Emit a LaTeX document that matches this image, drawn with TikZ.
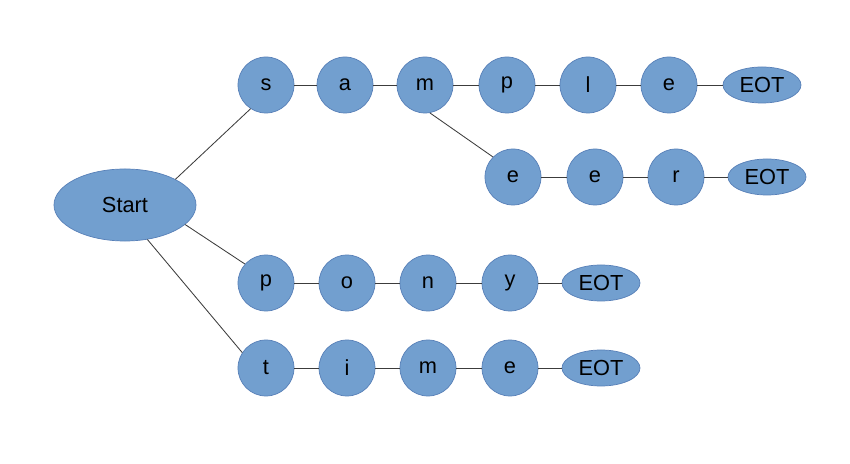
\documentclass[tikz,border=0pt]{standalone}
\usepackage{fontspec}
\setmainfont{Liberation Sans}
\usetikzlibrary{shapes.geometric}
\definecolor{NodeBlue}{RGB}{114,159,207}
\definecolor{NodeEdge}{RGB}{88,128,184}
\definecolor{LinkGray}{RGB}{60,60,60}
\tikzset{
  letter/.style={
    circle, minimum size=1.4cm, inner sep=0pt,
    draw=NodeEdge, fill=NodeBlue, line width=0.5pt,
    font=\fontsize{15.5}{18}\selectfont, text=black
  },
  root/.style={
    ellipse, minimum width=3.55cm, minimum height=1.8cm, inner sep=0pt,
    draw=NodeEdge, fill=NodeBlue, line width=0.5pt,
    font=\fontsize{15.5}{18}\selectfont, text=black
  },
  eot/.style={
    ellipse, minimum width=1.95cm, minimum height=0.9cm, inner sep=0pt,
    draw=NodeEdge, fill=NodeBlue, line width=0.5pt,
    font=\fontsize{15.5}{18}\selectfont, text=black
  },
  link/.style={draw=LinkGray, line width=0.6pt}
}
\begin{document}
\begin{tikzpicture}[x=0.025cm, y=-0.025cm]
  \useasboundingbox (0,0) rectangle (850,464);

  \node[root] (start) at (125,205) {Start};

  % sample
  \node[letter] (s1) at (266,85) {s};
  \node[letter] (a1) at (345,85) {a};
  \node[letter] (m1) at (425,85) {m};
  \node[letter] (p1) at (507,85) {p};
  \node[letter] (l1) at (588,85) {l};
  \node[letter] (e1) at (669,85) {e};
  \node[eot] (end1) at (762,85) {EOT};

  % steer branch
  \node[letter] (e2) at (513,177) {e};
  \node[letter] (e3) at (595,177) {e};
  \node[letter] (r2) at (676,177) {r};
  \node[eot] (end2) at (767,177) {EOT};

  % pony
  \node[letter] (p3) at (266,283) {p};
  \node[letter] (o3) at (347,283) {o};
  \node[letter] (n3) at (428,283) {n};
  \node[letter] (y3) at (510,283) {y};
  \node[eot] (end3) at (601,283) {EOT};

  % time
  \node[letter] (t4) at (266,368) {t};
  \node[letter] (i4) at (347,368) {i};
  \node[letter] (m4) at (428,368) {m};
  \node[letter] (e4) at (510,368) {e};
  \node[eot] (end4) at (601,368) {EOT};

  \draw[link] (start.27) -- (s1.237);
  \draw[link] (start.-18) -- (p3.138);
  \draw[link] (start.-57) -- (t4.147);
  \draw[link] (m1.-80) -- (e2.135);

  \draw[link] (s1) -- (a1) -- (m1) -- (p1) -- (l1) -- (e1) -- (end1);
  \draw[link] (e2) -- (e3) -- (r2) -- (end2);
  \draw[link] (p3) -- (o3) -- (n3) -- (y3) -- (end3);
  \draw[link] (t4) -- (i4) -- (m4) -- (e4) -- (end4);
\end{tikzpicture}
\end{document}
